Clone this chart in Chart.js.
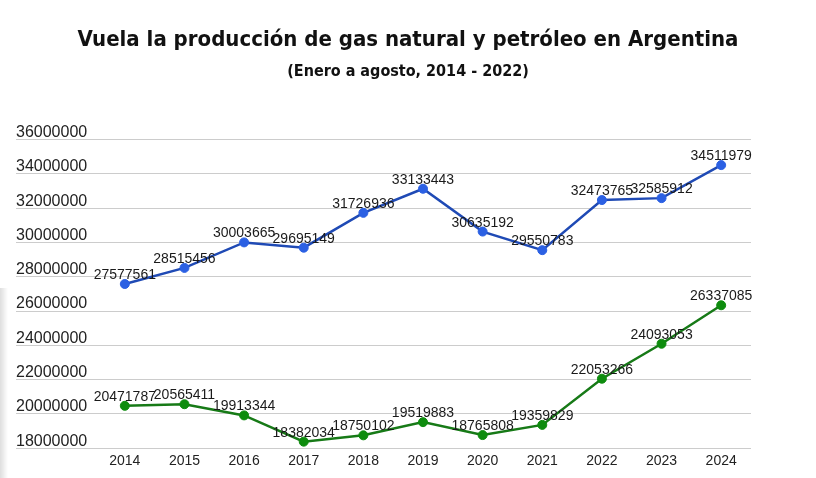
<!DOCTYPE html>
<html><head><meta charset="utf-8">
<script src="https://cdn.jsdelivr.net/npm/chart.js@4.4.0/dist/chart.umd.min.js"></script>
<style>
html,body{margin:0;padding:0;background:#fff;}
#wrap{position:relative;width:816px;height:478px;overflow:hidden;}
#shadow{position:absolute;left:0;top:288px;width:8px;height:190px;background:linear-gradient(to right, rgba(0,0,0,0.13), rgba(0,0,0,0));}
</style></head><body>
<div id="wrap"><canvas id="c" width="816" height="478"></canvas><div id="shadow"></div></div>
<script>
const years = ['2014','2015','2016','2017','2018','2019','2020','2021','2022','2023','2024'];
const gasValues = [27577561, 28515456, 30003665, 29695149, 31726936, 33133443, 30635192, 29550783, 32473765, 32585912, 34511979];
const oilValues = [20471787, 20565411, 19913344, 18382034, 18750102, 19519883, 18765808, 19359829, 22053266, 24093053, 26337085];
const yTicks = [18000000, 20000000, 22000000, 24000000, 26000000, 28000000, 30000000, 32000000, 34000000, 36000000];
const titleText = 'Vuela la producción de gas natural y petróleo en Argentina';
const subtitleText = '(Enero a agosto, 2014 - 2022)';

const valueLabels = {
  id: 'valueLabels',
  afterDatasetsDraw(chart) {
    const ctx = chart.ctx;
    ctx.save();
    ctx.font = '14px "Liberation Sans", Arial, sans-serif';
    ctx.fillStyle = '#1a1a1a';
    ctx.textAlign = 'center';
    ctx.textBaseline = 'alphabetic';
    chart.data.datasets.forEach((ds, i) => {
      const meta = chart.getDatasetMeta(i);
      meta.data.forEach((pt, j) => {
        ctx.fillText(String(ds.data[j]), pt.x, pt.y - 5);
      });
    });
    ctx.restore();
  }
};

const titleFont = "'Liberation Sans Narrow','DejaVu Sans Condensed','Roboto',sans-serif";

new Chart(document.getElementById('c'), {
  type: 'line',
  data: {
    labels: years,
    datasets: [
      {
        label: 'Gas natural',
        data: gasValues,
        borderColor: '#1f4ab5',
        backgroundColor: '#2b60e3',
        pointBackgroundColor: '#2b60e3',
        pointBorderColor: '#2b60e3',
        pointBorderWidth: 1,
        pointRadius: 4.5,
        borderWidth: 2.5,
        tension: 0
      },
      {
        label: 'Petróleo',
        data: oilValues,
        borderColor: '#177a17',
        backgroundColor: '#0e8c0e',
        pointBackgroundColor: '#0e8c0e',
        pointBorderColor: '#0e8c0e',
        pointBorderWidth: 1,
        pointRadius: 4.5,
        borderWidth: 2.5,
        tension: 0
      }
    ]
  },
  options: {
    responsive: false,
    animation: false,
    devicePixelRatio: 1,
    layout: { padding: { left: 16, right: 16, top: 0, bottom: 3 } },
    plugins: {
      legend: { display: false },
      tooltip: { enabled: false },
      title: {
        display: true,
        text: titleText,
        color: '#111',
        font: { family: titleFont, size: 22, weight: 'bold' },
        padding: { top: 27, bottom: 9 }
      },
      subtitle: {
        display: true,
        text: subtitleText,
        color: '#111',
        font: { family: titleFont, size: 16, weight: 'bold' },
        padding: { top: 0, bottom: 58 }
      }
    },
    scales: {
      x: {
        offset: true,
        grid: { display: false, drawTicks: false },
        border: { display: false },
        ticks: {
          color: '#222',
          padding: 5,
          font: { family: '"Liberation Sans", Arial, sans-serif', size: 14 }
        }
      },
      y: {
        min: 18000000,
        max: 36000000,
        afterBuildTicks(scale) { scale.ticks = yTicks.map(v => ({ value: v })); },
        afterFit(scale) { scale.width = 79; },
        grid: { color: '#cccccc', lineWidth: 1, tickLength: 79, drawTicks: true },
        border: { display: false },
        ticks: {
          mirror: true,
          padding: -79,
          labelOffset: -7,
          color: '#222',
          font: { family: '"Liberation Sans", Arial, sans-serif', size: 16 },
          callback: v => String(v)
        }
      },
      ySpacer: {
        position: 'right',
        display: true,
        min: 0,
        max: 1,
        afterFit(scale) { scale.width = 49; },
        grid: { display: false, drawTicks: false },
        border: { display: false },
        ticks: { display: false }
      }
    }
  },
  plugins: [valueLabels]
});
</script>
</body></html>
